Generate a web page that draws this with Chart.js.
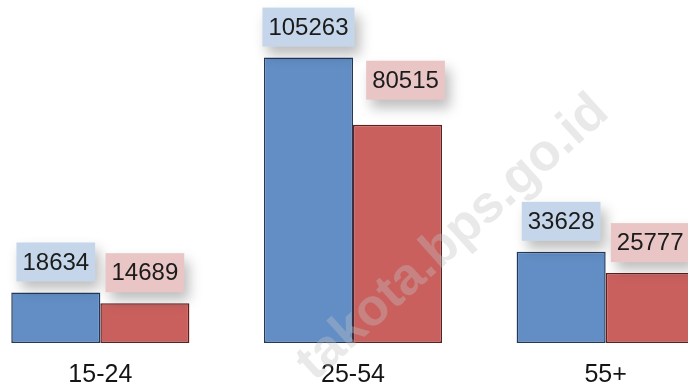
<!DOCTYPE html>
<html>
<head>
<meta charset="utf-8">
<script src="https://cdn.jsdelivr.net/npm/chart.js@4/dist/chart.umd.min.js"></script>
<style>
  html, body { margin: 0; padding: 0; background: #fff; overflow: hidden; width: 688px; height: 383px; }
  #wrap { position: absolute; left: -26px; top: 0; width: 758px; height: 400px; }
</style>
</head>
<body>
<div id="wrap"><canvas id="c" width="758" height="400"></canvas></div>
<script>
// Age groups and the two series
const ageGroups = ['15-24', '25-54', '55+'];
const seriesBlue = [18634, 105263, 33628];
const seriesRed = [14689, 80515, 25777];

const FONT = '"Liberation Sans", Arial, sans-serif';

// Value labels in shaded boxes above each bar, plus the diagonal site mark
const valueBoxes = {
  id: 'valueBoxes',
  afterDatasetsDraw(chart, args, opts) {
    const ctx = chart.ctx;

    // faint diagonal watermark
    ctx.save();
    ctx.translate(opts.mark.x, opts.mark.y);
    ctx.rotate(opts.mark.angle * Math.PI / 180);
    ctx.font = 'bold 52px ' + FONT;
    ctx.textAlign = 'center';
    ctx.textBaseline = 'middle';
    ctx.fillStyle = 'rgba(195,195,195,0.36)';
    ctx.fillText(opts.mark.text, 0, 0);
    ctx.restore();

    chart.data.datasets.forEach((ds, di) => {
      const meta = chart.getDatasetMeta(di);
      meta.data.forEach((bar, i) => {
        const text = String(ds.data[i]);
        ctx.save();
        ctx.font = '24px ' + FONT;
        const w = ctx.measureText(text).width + 12;
        const h = 39;
        const s = opts.shift[di + '-' + i] || [0, 0];
        const cx = bar.x + s[0];
        const bottom = bar.y - 11 + s[1];
        ctx.shadowColor = 'rgba(0,0,0,0.26)';
        ctx.shadowBlur = 12;
        ctx.shadowOffsetX = 5;
        ctx.shadowOffsetY = 8;
        ctx.fillStyle = opts.fills[di];
        ctx.fillRect(cx - w / 2, bottom - h, w, h);
        ctx.restore();
        ctx.save();
        ctx.font = '24px ' + FONT;
        ctx.fillStyle = '#1b1b1b';
        ctx.textAlign = 'center';
        ctx.textBaseline = 'middle';
        ctx.fillText(text, cx, bottom - h / 2 + 1);
        ctx.restore();
      });
    });
  }
};

new Chart(document.getElementById('c'), {
  type: 'bar',
  data: {
    labels: ageGroups,
    datasets: [
      {
        data: seriesBlue,
        backgroundColor: '#628ec5',
        borderColor: '#22395a',
        borderWidth: 1.5,
        borderSkipped: false,
        barPercentage: 1,
        categoryPercentage: 0.705
      },
      {
        data: seriesRed,
        backgroundColor: '#ca605e',
        borderColor: '#5e2020',
        borderWidth: 1.5,
        borderSkipped: false,
        barPercentage: 1,
        categoryPercentage: 0.705
      }
    ]
  },
  options: {
    responsive: false,
    animation: false,
    layout: { padding: 0 },
    plugins: {
      legend: { display: false },
      tooltip: { enabled: false },
      valueBoxes: {
        fills: ['#c6d6ea', '#eac5c5'],
        shift: { '1-1': [8, -14] },
        mark: { text: 'takota.bps.go.id', x: 479, y: 238, angle: -42 }
      }
    },
    scales: {
      x: {
        grid: { display: false, drawTicks: false },
        border: { display: false },
        ticks: {
          color: '#151515',
          font: { family: FONT, size: 25 },
          padding: 17,
          maxRotation: 0
        },
        afterFit(scale) { scale.height = 57; }
      },
      y: {
        display: false,
        min: 0,
        max: 126500
      }
    }
  },
  plugins: [valueBoxes]
});
</script>
</body>
</html>
